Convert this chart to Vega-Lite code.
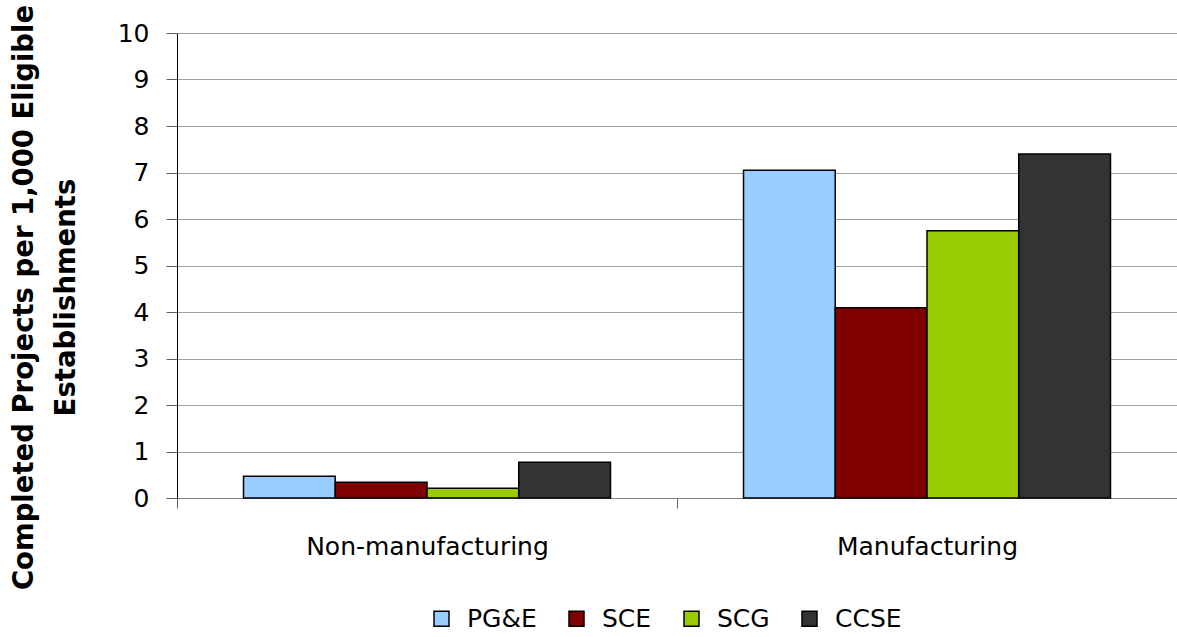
{
  "$schema": "https://vega.github.io/schema/vega-lite/v6.json",
  "width": 1000,
  "height": 465,
  "autosize": {"type": "none"},
  "padding": {"left": 177, "top": 33, "right": 0, "bottom": 139},
  "background": "white",
  "config": {
    "font": "DejaVu Sans",
    "view": {"stroke": null}
  },
  "data": {
    "values": [
      {"sector": "Non-manufacturing", "utility": "PG&E", "value": 0.47},
      {"sector": "Non-manufacturing", "utility": "SCE", "value": 0.34},
      {"sector": "Non-manufacturing", "utility": "SCG", "value": 0.21},
      {"sector": "Non-manufacturing", "utility": "CCSE", "value": 0.77},
      {"sector": "Manufacturing", "utility": "PG&E", "value": 7.05},
      {"sector": "Manufacturing", "utility": "SCE", "value": 4.09},
      {"sector": "Manufacturing", "utility": "SCG", "value": 5.75},
      {"sector": "Manufacturing", "utility": "CCSE", "value": 7.4}
    ]
  },
  "mark": {"type": "bar", "stroke": "black", "strokeWidth": 1.5},
  "encoding": {
    "x": {
      "field": "sector",
      "type": "nominal",
      "sort": ["Non-manufacturing", "Manufacturing"],
      "scale": {"paddingInner": 0, "paddingOuter": 0},
      "axis": {
        "title": null,
        "labelAngle": 0,
        "labelFontSize": 25,
        "labelColor": "black",
        "labelPadding": 26,
        "labelLimit": 600,
        "tickBand": "extent",
        "tickSize": 10,
        "tickColor": "#606060",
        "domainColor": "#808080",
        "grid": false
      }
    },
    "xOffset": {
      "field": "utility",
      "type": "nominal",
      "sort": ["PG&E", "SCE", "SCG", "CCSE"],
      "scale": {"paddingInner": 0, "paddingOuter": 0.725}
    },
    "y": {
      "field": "value",
      "type": "quantitative",
      "scale": {"domain": [0, 10], "nice": false},
      "axis": {
        "values": [0, 1, 2, 3, 4, 5, 6, 7, 8, 9, 10],
        "title": ["Completed Projects per 1,000 Eligible", "Establishments"],
        "titleFont": "DejaVu Sans",
        "titleFontSize": 27.5,
        "titleFontWeight": "bold",
        "titleColor": "black",
        "titleLineHeight": 42,
        "titleAnchor": "middle",
        "titleAngle": -90,
        "titleBaseline": "top",
        "titleX": -167,
        "titleY": 264,
        "labelFontSize": 25,
        "labelColor": "black",
        "labelPadding": 17,
        "tickSize": 11,
        "tickColor": "#606060",
        "domainColor": "black",
        "grid": true,
        "gridColor": "#A0A0A0",
        "gridWidth": 1
      }
    },
    "color": {
      "field": "utility",
      "type": "nominal",
      "scale": {
        "domain": ["PG&E", "SCE", "SCG", "CCSE"],
        "range": ["#99CCFF", "#800000", "#99CC00", "#333333"]
      },
      "legend": {
        "title": null,
        "orient": "none",
        "direction": "horizontal",
        "legendX": 252,
        "legendY": 573,
        "symbolType": "square",
        "symbolSize": 225,
        "symbolStrokeColor": "black",
        "symbolStrokeWidth": 1.5,
        "symbolOpacity": 1,
        "labelFontSize": 25,
        "labelColor": "black",
        "labelOffset": 13,
        "columnPadding": 27
      }
    }
  }
}
